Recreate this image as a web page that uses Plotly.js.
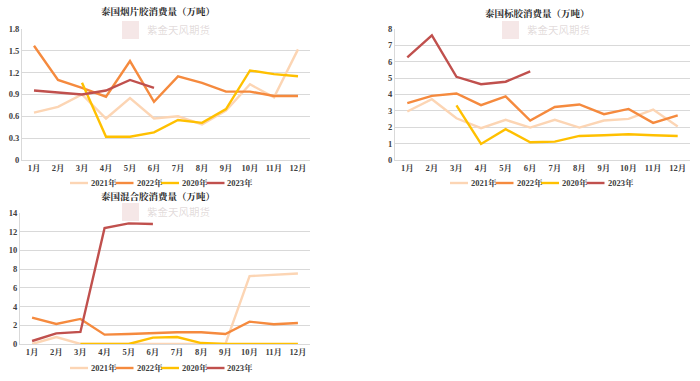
<!DOCTYPE html>
<html>
<head>
<meta charset="utf-8">
<script src="https://cdn.plot.ly/plotly-3.0.1.min.js"></script>
<style>html,body{margin:0;padding:0;background:#fff;}#chart{width:700px;height:381px;}</style>
</head>
<body>
<div id="chart"></div>
<script>
// ---- data ----
const months = ['1月','2月','3月','4月','5月','6月','7月','8月','9月','10月','11月','12月'];
const seriesNames = ['2021年','2022年','2020年','2023年'];
const seriesColors = ['#FCD5B4','#F58A3E','#FFC000','#C0504D'];

// 泰国烟片胶消费量（万吨）
const smoked2021 = [0.65,0.73,0.90,0.57,0.85,0.57,0.60,0.49,0.68,1.04,0.86,1.52];
const smoked2022 = [1.57,1.10,0.99,0.87,1.36,0.80,1.15,1.06,0.94,0.94,0.88,0.88];
const smoked2020 = [null,null,1.06,0.32,0.32,0.38,0.55,0.51,0.70,1.23,1.18,1.15];
const smoked2023 = [0.955,0.93,0.90,0.955,1.10,0.99,null,null,null,null,null,null];

// 泰国标胶消费量（万吨）
const tsr2021 = [2.96,3.71,2.55,1.94,2.45,1.98,2.45,1.98,2.41,2.51,3.08,2.04];
const tsr2022 = [3.47,3.92,4.06,3.35,3.88,2.41,3.24,3.39,2.80,3.12,2.27,2.73];
const tsr2020 = [null,null,3.33,0.98,1.88,1.08,1.12,1.47,1.51,1.57,1.51,1.47];
const tsr2023 = [6.27,7.61,5.08,4.63,4.78,5.41,null,null,null,null,null,null];

// 泰国混合胶消费量（万吨）
const mix2021 = [0,0.75,0,0,0,0,0,0,0,7.25,7.39,7.54];
const mix2022 = [2.82,2.14,2.68,1.0,1.07,1.18,1.25,1.25,1.07,2.39,2.11,2.25];
const mix2020 = [null,null,0,0,0,0.68,0.75,0.1,0,0,0,0];
const mix2023 = [0.32,1.14,1.29,12.39,12.89,12.82,null,null,null,null,null,null];

const titles = ['泰国烟片胶消费量（万吨）','泰国标胶消费量（万吨）','泰国混合胶消费量（万吨）'];
const watermark = '紫金天风期货';

// ---- build ----
const W = 700, H = 381;
const px = x => x / W;
const py = y => 1 - y / H;
const FONT = '"Liberation Serif", "Noto Serif CJK SC", "Noto Sans CJK SC", serif';

const groups = [
  {data:[smoked2021,smoked2022,smoked2020,smoked2023], xa:'x', ya:'y', legX:70, legY:183},
  {data:[tsr2021,tsr2022,tsr2020,tsr2023], xa:'x2', ya:'y2', legX:450, legY:183},
  {data:[mix2021,mix2022,mix2020,mix2023], xa:'x3', ya:'y3', legX:70, legY:368}
];

const traces = [];
const shapes = [];
const annotations = [];
groups.forEach(g => {
  g.data.forEach((vals, i) => {
    traces.push({
      type:'scatter', mode:'lines', x:months, y:vals, name:seriesNames[i],
      xaxis:g.xa, yaxis:g.ya, showlegend:false,
      line:{color:seriesColors[i], width:2.4},
      connectgaps:false, hoverinfo:'skip'
    });
    // compact legend entry (short line + label), like the original
    const x0 = g.legX + i * 45.5;
    shapes.push({
      type:'line', xref:'paper', yref:'paper',
      x0:px(x0), x1:px(x0 + 18), y0:py(g.legY), y1:py(g.legY),
      line:{color:seriesColors[i], width:2.4}
    });
    annotations.push({
      text:seriesNames[i], x:px(x0 + 19), y:py(g.legY), xref:'paper', yref:'paper',
      showarrow:false, xanchor:'left', yanchor:'middle',
      font:{family:FONT, size:8.5, color:'#404040', weight:'bold'}
    });
  });
});

const xBase = {
  type:'category', range:[-0.5,11.5], showgrid:false, zeroline:false,
  showline:true, linecolor:'#D9D9D9', linewidth:1,
  ticks:'', tickfont:{family:FONT, size:8.5, color:'#404040', weight:'bold'},
  fixedrange:true
};
const yBase = {
  showgrid:true, gridcolor:'#D9D9D9', gridwidth:1.2, zeroline:false,
  showline:true, linecolor:'#D9D9D9', linewidth:1,
  ticks:'', tickfont:{family:FONT, size:8.5, color:'#404040', weight:'bold'},
  fixedrange:true
};

const titleAnn = (text, x, y) => ({
  text:text, x:px(x), y:py(y), xref:'paper', yref:'paper', showarrow:false,
  xanchor:'center', yanchor:'middle',
  font:{family:FONT, size:9.5, color:'#262626', weight:'bold'}
});
const wmAnn = (x, y) => ({
  text:watermark, x:px(x), y:py(y), xref:'paper', yref:'paper', showarrow:false,
  xanchor:'left', yanchor:'middle',
  font:{family:'"Noto Sans CJK SC", sans-serif', size:10.5, color:'rgba(170,150,150,0.35)'}
});
const wmBox = (x, y) => ({
  type:'rect', xref:'paper', yref:'paper',
  x0:px(x), x1:px(x+17), y0:py(y+9), y1:py(y-9),
  fillcolor:'rgba(200,120,120,0.18)', line:{width:0}, layer:'above'
});

annotations.push(
  titleAnn(titles[0], 158, 12),
  titleAnn(titles[1], 537, 13),
  titleAnn(titles[2], 158, 196),
  wmAnn(145, 29), wmAnn(525, 29), wmAnn(145, 211)
);
shapes.push(wmBox(122, 30), wmBox(502, 30), wmBox(122, 212));

const layout = {
  width:W, height:H, margin:{l:0,r:0,t:0,b:0},
  paper_bgcolor:'#ffffff', plot_bgcolor:'#ffffff',
  showlegend:false,
  xaxis: Object.assign({}, xBase, {domain:[px(22), px(310)], anchor:'y'}),
  yaxis: Object.assign({}, yBase, {domain:[py(160), py(29)], range:[0,1.8], dtick:0.3, anchor:'x'}),
  xaxis2: Object.assign({}, xBase, {domain:[px(395), px(690)], anchor:'y2'}),
  yaxis2: Object.assign({}, yBase, {domain:[py(160), py(29)], range:[0,8], dtick:1, anchor:'x2'}),
  xaxis3: Object.assign({}, xBase, {domain:[px(20), px(310)], anchor:'y3'}),
  yaxis3: Object.assign({}, yBase, {domain:[py(344), py(213)], range:[0,14], dtick:2, anchor:'x3'}),
  annotations:annotations,
  shapes:shapes
};

Plotly.newPlot('chart', traces, layout, {displayModeBar:false, staticPlot:true});
</script>
</body>
</html>
